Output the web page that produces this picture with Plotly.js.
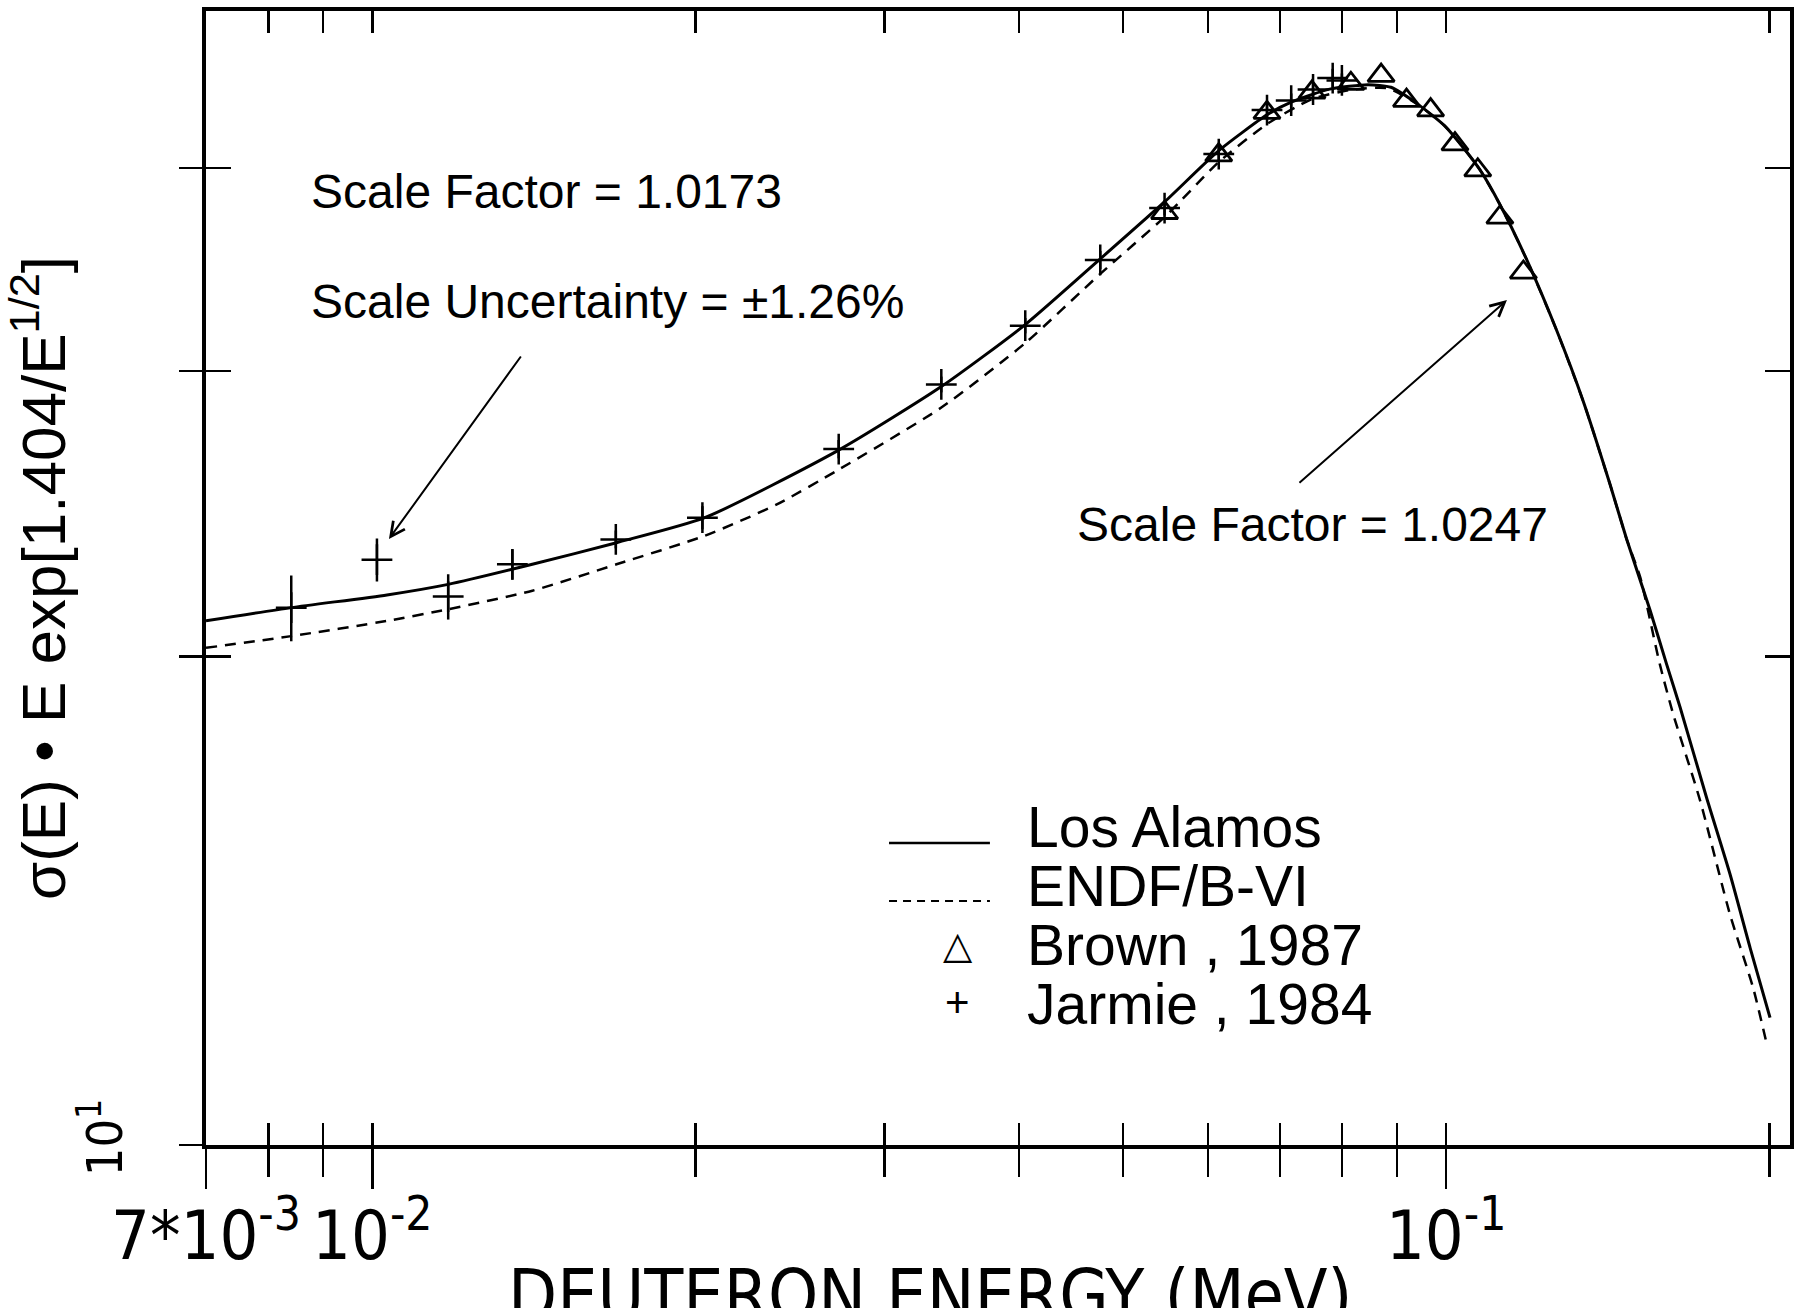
<!DOCTYPE html>
<html>
<head>
<meta charset="utf-8">
<script src="https://cdn.plot.ly/plotly-3.0.1.min.js"></script>
<style>
html, body { margin: 0; padding: 0; background: #ffffff; }
#chart { width: 1806px; height: 1308px; }
</style>
</head>
<body>
<div id="chart"></div>
<script>
// ---- Data ----
// Los Alamos evaluation (solid line)
const losAlamosE = [0.007, 0.008404, 0.010318, 0.011766, 0.014093, 0.016880, 0.020395, 0.027182, 0.033871,
  0.040551, 0.047625, 0.054755, 0.061404, 0.068097, 0.071722, 0.077893, 0.084563, 0.088832, 0.094081,
  0.099630, 0.10365, 0.10756, 0.11217, 0.11887, 0.12671, 0.13410, 0.14206, 0.14720, 0.15483,
  0.16043, 0.16509, 0.17478, 0.18376, 0.19187, 0.20024];
const losAlamosY = [21.04, 21.44, 21.83, 22.16, 22.80, 23.51, 24.36, 26.81, 29.34,
  32.04, 35.17, 38.17, 41.01, 43.15, 43.93, 44.75, 45.03, 44.87, 43.81,
  42.49, 41.21, 39.89, 38.01, 35.12, 31.78, 28.76, 25.55, 23.64, 21.36,
  19.78, 18.62, 16.37, 14.69, 13.23, 11.98];

// ENDF/B-VI (dashed line)
const endfE = [0.007, 0.008404, 0.010318, 0.011766, 0.014093, 0.016880, 0.020395, 0.023830, 0.027182, 0.033871,
  0.040551, 0.047625, 0.054755, 0.061404, 0.068097, 0.075163, 0.081974, 0.088262, 0.094081, 0.099630,
  0.10365, 0.10756, 0.11217, 0.11887, 0.12671, 0.13410, 0.14206, 0.14720, 0.15163, 0.15808,
  0.16266, 0.17234, 0.18376, 0.19311, 0.19891];
const endfY = [20.25, 20.59, 21.04, 21.39, 21.96, 22.80, 23.74, 24.83, 26.08, 28.48,
  31.21, 34.43, 37.36, 40.35, 42.59, 44.15, 44.73, 44.80, 43.78, 42.49,
  41.21, 39.89, 38.01, 35.12, 31.78, 28.76, 25.55, 23.64, 22.37, 19.79,
  18.44, 16.31, 13.87, 12.50, 11.53];

// Brown, 1987 (open triangles)
const brownE = [0.05467, 0.06140, 0.06809, 0.07499, 0.08151, 0.08697, 0.09184, 0.09671, 0.1019, 0.1070, 0.1122, 0.1180];
const brownY = [37.55, 40.75, 43.28, 44.55, 45.10, 45.62, 44.03, 43.44, 41.39, 39.89, 37.30, 34.50];

// Jarmie, 1984 (plus with error bars)
const jarmieE = [0.008404, 0.010099, 0.011766, 0.013502, 0.016855, 0.020294, 0.027182, 0.033871, 0.040551,
  0.047625, 0.054668, 0.061404, 0.068097, 0.071722, 0.075163, 0.078395, 0.079959];
const jarmieY = [21.44, 22.95, 21.78, 22.80, 23.62, 24.36, 26.85, 29.43, 31.99,
  35.12, 37.80, 40.81, 43.44, 44.03, 44.73, 45.46, 45.31];
const jarmieErr = [1.0, 0.7, 0.7, 0.49, 0.30, 0.40, 0.35, 0.33, 0.35,
  0.45, 0.40, 0.45, 0.45, 0.45, 0.45, 0.6, 0.45];

// Axes
const xRange = [0.007, 0.209];
const yRange = [10, 50];
const xTickVals = [0.007, 0.01, 0.1];
const xTickText = ['7*10<sup>-3</sup>', '10<sup>-2</sup>', '10<sup>-1</sup>'];
const xMinorTickVals = [0.008, 0.009, 0.02, 0.03, 0.04, 0.05, 0.06, 0.07, 0.08, 0.09, 0.2];
const yTickVals = [10];
const yTickText = ['10<sup>1</sup>'];
const yMinorTickVals = [20, 30, 40];

// Texts
const seriesNames = ['Los Alamos', 'ENDF/B-VI', 'Brown , 1987', 'Jarmie , 1984'];
const xTitle = 'DEUTERON ENERGY (MeV)';
const yTitle = 'σ(E) • E exp[1.404/E<sup>1/2</sup>]';
const noteTexts = ['Scale Factor = 1.0173', 'Scale Uncertainty = ±1.26%', 'Scale Factor = 1.0247'];

// ---- Figure ----
const BLACK = '#000000';
const NARROW = '"Liberation Sans Narrow", "DejaVu Sans Condensed", "Liberation Sans", Arial, sans-serif';
const REGULAR = '"Liberation Sans", Arial, Helvetica, sans-serif';

const lx = Math.log10(xRange[0]), hx = Math.log10(xRange[1]);
const ly = Math.log10(yRange[0]), hy = Math.log10(yRange[1]);
const allXTicks = xTickVals.concat(xMinorTickVals);
const allYTicks = yTickVals.concat(yMinorTickVals);

const traces = [
  {
    type: 'scatter', mode: 'lines', name: seriesNames[0],
    x: losAlamosE, y: losAlamosY,
    line: {color: BLACK, width: 3, shape: 'spline', smoothing: 0.6},
    showlegend: false, hoverinfo: 'skip'
  },
  {
    type: 'scatter', mode: 'lines', name: seriesNames[1],
    x: endfE, y: endfY,
    line: {color: BLACK, width: 2.5, dash: '11px,8px', shape: 'spline', smoothing: 0.6},
    showlegend: false, hoverinfo: 'skip'
  },
  {
    type: 'scatter', mode: 'markers', name: seriesNames[2],
    x: brownE, y: brownY,
    marker: {symbol: 'triangle-up-open', size: 23, color: BLACK, line: {color: BLACK, width: 2.8}},
    showlegend: false, hoverinfo: 'skip'
  },
  {
    type: 'scatter', mode: 'markers', name: seriesNames[3],
    x: jarmieE, y: jarmieY,
    error_y: {type: 'data', array: jarmieErr, visible: true, color: BLACK, thickness: 2.5, width: 0},
    marker: {symbol: 'cross-thin-open', size: 22, color: BLACK, line: {color: BLACK, width: 2.5}},
    showlegend: false, hoverinfo: 'skip'
  },
  {
    // carrier for the inward-pointing tick axes
    type: 'scatter', mode: 'markers', x: [], y: [], xaxis: 'x2', yaxis: 'y2',
    showlegend: false, hoverinfo: 'skip'
  }
];

const annFont = {family: REGULAR, size: 48, color: BLACK};
const legFont = {family: REGULAR, size: 57, color: BLACK};

const annotations = [
  {xref: 'paper', yref: 'paper', x: 0.0650, y: 0.8404, xanchor: 'left', yanchor: 'middle',
   text: noteTexts[0], showarrow: false, font: annFont},
  {xref: 'paper', yref: 'paper', x: 0.0650, y: 0.7434, xanchor: 'left', yanchor: 'middle',
   text: noteTexts[1], showarrow: false, font: annFont},
  {xref: 'paper', yref: 'paper', x: 0.5486, y: 0.5476, xanchor: 'left', yanchor: 'middle',
   text: noteTexts[2], showarrow: false, font: annFont},
  // arrows
  {xref: 'paper', yref: 'paper', x: 0.1155, y: 0.5344, ax: 133, ay: -184, text: '',
   showarrow: true, arrowhead: 5, arrowsize: 1.4, arrowwidth: 2, arrowcolor: BLACK, standoff: 0},
  {xref: 'paper', yref: 'paper', x: 0.8213, y: 0.7451, ax: -209, ay: 184, text: '',
   showarrow: true, arrowhead: 5, arrowsize: 1.4, arrowwidth: 2, arrowcolor: BLACK, standoff: 0},
  // legend texts
  {xref: 'paper', yref: 'paper', x: 0.5170, y: 0.2804, xanchor: 'left', yanchor: 'middle',
   text: seriesNames[0], showarrow: false, font: legFont},
  {xref: 'paper', yref: 'paper', x: 0.5170, y: 0.2284, xanchor: 'left', yanchor: 'middle',
   text: seriesNames[1], showarrow: false, font: legFont},
  {xref: 'paper', yref: 'paper', x: 0.5170, y: 0.1768, xanchor: 'left', yanchor: 'middle',
   text: seriesNames[2], showarrow: false, font: legFont},
  {xref: 'paper', yref: 'paper', x: 0.5170, y: 0.1243, xanchor: 'left', yanchor: 'middle',
   text: seriesNames[3], showarrow: false, font: legFont},
  // legend symbols
  {xref: 'paper', yref: 'paper', x: 0.4747, y: 0.1760, xanchor: 'center', yanchor: 'middle',
   text: '△', showarrow: false, font: {family: '"DejaVu Sans", sans-serif', size: 38, color: BLACK}},
  {xref: 'paper', yref: 'paper', x: 0.4747, y: 0.1261, xanchor: 'center', yanchor: 'middle',
   text: '+', showarrow: false, font: {family: REGULAR, size: 42, color: BLACK}},
  // x-axis title (cut by the lower edge, as in the reference)
  {xref: 'paper', yref: 'paper', x: 0.457, y: -0.1325, xanchor: 'center', yanchor: 'middle',
   text: xTitle, showarrow: false, font: {family: NARROW, size: 71, color: BLACK}}
];

const shapes = [
  {type: 'line', xref: 'paper', yref: 'paper', x0: 0.4312, x1: 0.4949, y0: 0.2663, y1: 0.2663,
   line: {color: BLACK, width: 2.5}},
  {type: 'line', xref: 'paper', yref: 'paper', x0: 0.4312, x1: 0.4949, y0: 0.2152, y1: 0.2152,
   line: {color: BLACK, width: 2, dash: '8px,6px'}}
];

const layout = {
  width: 1806, height: 1308,
  margin: {l: 206, r: 16, t: 11, b: 163, pad: 0},
  paper_bgcolor: '#ffffff', plot_bgcolor: '#ffffff',
  showlegend: false,
  font: {family: REGULAR, color: BLACK},
  xaxis: {
    type: 'log', range: [lx, hx], autorange: false,
    tickmode: 'array', tickvals: xTickVals, ticktext: xTickText,
    ticks: 'outside', ticklen: 40, tickwidth: 2.5, tickcolor: BLACK,
    minor: {tickmode: 'array', tickvals: xMinorTickVals, ticks: 'outside', ticklen: 28,
            tickwidth: 2.5, tickcolor: BLACK, showgrid: false},
    showline: true, linewidth: 4, linecolor: BLACK, mirror: true,
    showgrid: false, zeroline: false,
    tickfont: {family: NARROW, size: 68, color: BLACK},
    ticklabelstandoff: -12
  },
  xaxis2: {
    type: 'log', range: [lx, hx], autorange: false, overlaying: 'x', anchor: 'y2',
    tickmode: 'array', tickvals: allXTicks,
    ticks: 'inside', ticklen: 22, tickwidth: 2.5, tickcolor: BLACK, mirror: 'ticks',
    showticklabels: false, showline: true, linewidth: 4, linecolor: BLACK,
    showgrid: false, zeroline: false
  },
  yaxis: {
    type: 'log', range: [ly, hy], autorange: false,
    tickmode: 'array', tickvals: yTickVals, ticktext: yTickText, tickangle: -90,
    ticks: 'outside', ticklen: 23, tickwidth: 2.5, tickcolor: BLACK,
    minor: {tickmode: 'array', tickvals: yMinorTickVals, ticks: 'outside', ticklen: 23,
            tickwidth: 2.5, tickcolor: BLACK, showgrid: false},
    showline: true, linewidth: 4, linecolor: BLACK, mirror: true,
    showgrid: false, zeroline: false,
    tickfont: {family: NARROW, size: 50, color: BLACK},
    ticklabelstandoff: 37,
    title: {text: yTitle, font: {family: REGULAR, size: 62, color: BLACK}, standoff: 0}
  },
  yaxis2: {
    type: 'log', range: [ly, hy], autorange: false, overlaying: 'y', anchor: 'x2',
    tickmode: 'array', tickvals: allYTicks,
    ticks: 'inside', ticklen: 25, tickwidth: 2.5, tickcolor: BLACK, mirror: 'ticks',
    showticklabels: false, showline: true, linewidth: 4, linecolor: BLACK,
    showgrid: false, zeroline: false
  },
  annotations: annotations,
  shapes: shapes
};

Plotly.newPlot('chart', traces, layout, {staticPlot: true, displayModeBar: false});
</script>
</body>
</html>
